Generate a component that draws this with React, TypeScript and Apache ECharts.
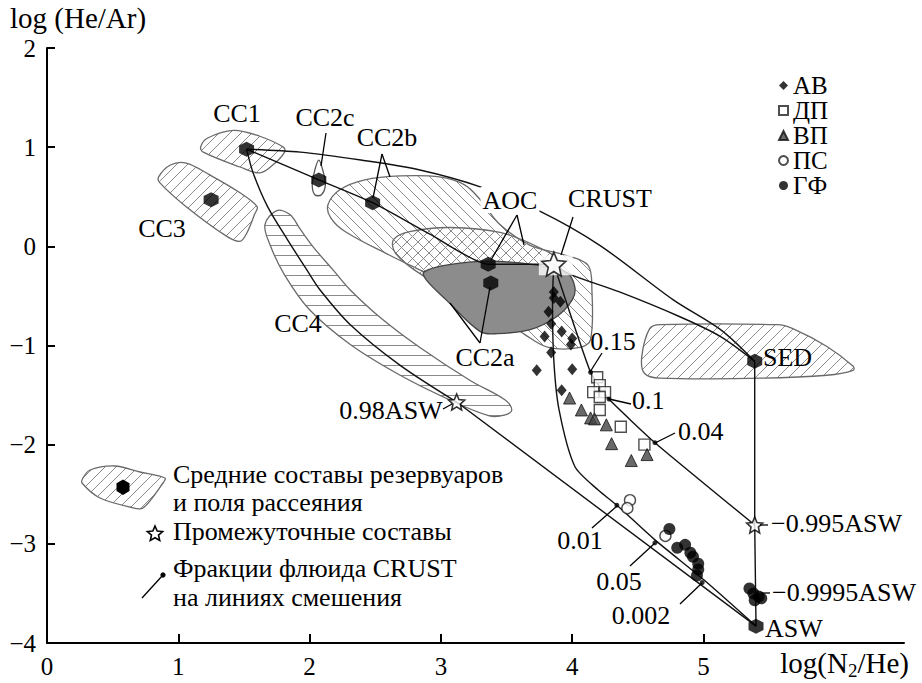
import React, { useEffect, useRef } from 'react';
import * as echarts from 'echarts';

const FONT = 'Liberation Serif, Times New Roman, serif';

// ---- axes ----
const X_TICKS = [0, 1, 2, 3, 4, 5];
const Y_TICKS = [-4, -3, -2, -1, 0, 1, 2];

// ---- samples ----
const AB_X = [3.86, 3.86, 3.91, 3.82, 3.84, 3.92, 3.79, 4.0, 3.99, 3.84, 3.73, 4.0, 3.92];
const AB_Y = [-0.46, -0.52, -0.56, -0.66, -0.78, -0.86, -0.91, -0.93, -0.99, -1.07, -1.25, -1.24, -1.45];
const DP_X = [4.19, 4.21, 4.16, 4.25, 4.21, 4.21, 4.37, 4.55];
const DP_Y = [-1.32, -1.4, -1.47, -1.47, -1.52, -1.65, -1.82, -2.0];
const VP_X = [3.98, 4.07, 4.14, 4.17, 4.26, 4.3, 4.45, 4.57];
const VP_Y = [-1.53, -1.65, -1.73, -1.74, -1.8, -1.99, -2.16, -2.1];
const PS_X = [4.44, 4.42, 4.71];
const PS_Y = [-2.56, -2.64, -2.92];
const GF_X = [4.74, 4.8, 4.86, 4.9, 4.92, 4.96, 4.96, 4.95, 5.35, 5.38, 5.39, 5.44, 5.42];
const GF_Y = [-2.85, -3.04, -3.01, -3.09, -3.13, -3.2, -3.26, -3.32, -3.45, -3.5, -3.57, -3.55, -3.53];

// ---- reservoir means ----
const MEAN_NAMES = ['CC1', 'CC2c', 'CC2b', 'CC3', 'AOC', 'CC2a', 'SED', 'ASW'];
const MEAN_X = [1.52, 2.07, 2.48, 1.25, 3.36, 3.38, 5.39, 5.4];
const MEAN_Y = [0.98, 0.67, 0.44, 0.47, -0.18, -0.37, -1.16, -3.83];

// ---- intermediate compositions ----
const STAR_NAMES = ['CRUST', '0.98ASW', '−0.995ASW'];
const STAR_X = [3.86, 3.12, 5.39];
const STAR_Y = [-0.18, -1.57, -2.81];

// ---- CRUST fluid fractions on mixing lines ----
const FRAC_NAMES = ['0.15', '0.1', '0.04', '0.01', '0.05', '0.002'];
const FRAC_X = [4.14, 4.28, 4.63, 4.34, 4.63, 4.99];
const FRAC_Y = [-1.27, -1.54, -1.98, -2.61, -2.99, -3.39];

// ---- mixing lines ----
const L_CC1_SED_X = [1.52, 1.93, 2.39, 2.84, 3.3, 3.76, 4.21, 4.77, 5.13, 5.39];
const L_CC1_SED_Y = [0.98, 0.95, 0.87, 0.77, 0.6, 0.35, 0.01, -0.54, -0.84, -1.16];
const L_CRUST_SED_X = [3.86, 3.98, 4.36, 4.82, 5.13, 5.39];
const L_CRUST_SED_Y = [-0.18, -0.28, -0.46, -0.71, -0.91, -1.16];
const L_CC1_CRUST_X = [1.52, 2.07, 2.48, 2.92, 3.36, 3.86];
const L_CC1_CRUST_Y = [0.98, 0.67, 0.44, 0.12, -0.18, -0.18];
const L_CC1_ASW98_X = [1.52, 1.57, 1.68, 1.83, 1.98, 2.08, 2.31, 2.69, 3.12];
const L_CC1_ASW98_Y = [0.98, 0.74, 0.4, 0.07, -0.24, -0.44, -0.79, -1.2, -1.57];
const L_ASW98_ASW_X = [3.12, 5.4];
const L_ASW98_ASW_Y = [-1.57, -3.83];
const L_CRUST_995_X = [3.86, 4.14, 4.28, 4.63, 5.39];
const L_CRUST_995_Y = [-0.18, -1.27, -1.54, -1.98, -2.81];
const L_SED_ASW_X = [5.39, 5.39, 5.4];
const L_SED_ASW_Y = [-1.16, -2.81, -3.83];
const L_CRUST_ASW_X = [3.86, 3.85, 3.86, 3.9, 4.02, 4.2, 4.34, 4.63, 5.0, 5.4];
const L_CRUST_ASW_Y = [-0.18, -0.54, -1.15, -1.65, -2.22, -2.46, -2.61, -2.96, -3.36, -3.83];

// ---- reservoir fields (outlines) ----
const F_CC1 = [[1.17, 1.0], [1.22, 1.09], [1.42, 1.17], [1.62, 1.11], [1.8, 1.0], [1.81, 0.95], [1.72, 0.82], [1.62, 0.74], [1.47, 0.8], [1.19, 0.95]];
const F_CC3 = [[0.85, 0.7], [0.94, 0.82], [1.06, 0.84], [1.24, 0.72], [1.47, 0.54], [1.6, 0.4], [1.58, 0.32], [1.52, 0.13], [1.47, 0.05], [1.37, 0.1], [1.06, 0.4], [0.86, 0.64]];
const F_CC2C = [[2.07, 0.87], [2.1, 0.77], [2.12, 0.62], [2.09, 0.52], [2.04, 0.52], [2.02, 0.62], [2.04, 0.77]];
const F_CC2B = [[2.14, 0.42], [2.23, 0.57], [2.42, 0.67], [2.69, 0.71], [2.99, 0.7], [3.18, 0.62], [3.3, 0.47], [3.45, 0.22], [3.68, 0.01], [3.95, -0.09], [4.12, -0.19], [4.15, -0.44], [4.14, -0.94], [4.06, -1.02], [3.82, -1.02], [3.64, -0.89], [3.37, -0.64], [2.99, -0.34], [2.61, -0.09], [2.27, 0.15], [2.16, 0.29]];
const F_AOC = [[2.64, 0.07], [2.77, 0.15], [3.07, 0.19], [3.45, 0.14], [3.76, -0.02], [3.91, -0.16], [3.87, -0.34], [3.68, -0.47], [3.37, -0.51], [3.07, -0.44], [2.8, -0.24], [2.65, -0.06]];
const F_CC2A = [[2.87, -0.26], [3.04, -0.19], [3.37, -0.15], [3.73, -0.19], [3.96, -0.27], [4.02, -0.41], [4.0, -0.54], [3.88, -0.71], [3.68, -0.84], [3.43, -0.88], [3.3, -0.86], [3.04, -0.54], [2.89, -0.34]];
const F_CC4 = [[1.75, 0.36], [1.85, 0.32], [1.93, 0.17], [2.03, -0.01], [2.18, -0.24], [2.31, -0.44], [2.54, -0.72], [2.84, -1.02], [3.22, -1.35], [3.49, -1.55], [3.54, -1.65], [3.49, -1.7], [3.37, -1.71], [3.07, -1.55], [2.69, -1.3], [2.31, -0.99], [2.0, -0.64], [1.81, -0.29], [1.7, 0.01], [1.66, 0.22]];
const F_SED = [[4.53, -1.11], [4.59, -0.83], [4.67, -0.79], [5.56, -0.79], [5.68, -0.83], [5.94, -1.01], [6.14, -1.21], [6.14, -1.25], [5.94, -1.3], [5.43, -1.33], [4.67, -1.33], [4.55, -1.28]];

const zip = (xs: number[], ys: number[]) => xs.map((x, i) => [x, ys[i]]);

function hatch(kind: string, step: number) {
  const c = document.createElement('canvas');
  c.width = step;
  c.height = step;
  const g = c.getContext('2d') as CanvasRenderingContext2D;
  g.strokeStyle = '#8a8a8a';
  g.lineWidth = 1;
  g.beginPath();
  if (kind === '/') {
    for (let o = -step; o <= step; o += step) { g.moveTo(o, step); g.lineTo(o + step, 0); }
  } else if (kind === '\\') {
    for (let o = -step; o <= step; o += step) { g.moveTo(o, 0); g.lineTo(o + step, step); }
  } else {
    g.moveTo(0, step / 2 + 0.5); g.lineTo(step, step / 2 + 0.5);
  }
  g.stroke();
  return { image: c, repeat: 'repeat' };
}

function starPts(cx: number, cy: number, R: number, r: number) {
  const pts: number[][] = [];
  for (let i = 0; i < 10; i++) {
    const a = -Math.PI / 2 + (i * Math.PI) / 5;
    const rr = i % 2 === 0 ? R : r;
    pts.push([cx + rr * Math.cos(a), cy + rr * Math.sin(a)]);
  }
  return pts;
}
const STAR_PATH = 'path://' + starPts(0, 0, 10, 4.6).map((p, i) => (i ? 'L' : 'M') + p[0].toFixed(2) + ',' + p[1].toFixed(2)).join('') + 'Z';
const HEX_PATH = 'path://M0,-10L8.66,-5L8.66,5L0,10L-8.66,5L-8.66,-5Z';

export default function App() {
  const ref = useRef<HTMLDivElement>(null);
  useEffect(() => {
    if (!ref.current) return;
    const chart = echarts.init(ref.current, undefined, { renderer: 'svg' });

    const hSlash = hatch('/', 11);
    const hBack = hatch('\\', 11);
    const hHor = hatch('-', 10);

    const regions = [
      { name: 'fCC4', pts: F_CC4, fill: hHor, stroke: '#6a6a6a' },
      { name: 'fCC3', pts: F_CC3, fill: hSlash, stroke: '#6a6a6a' },
      { name: 'fCC1', pts: F_CC1, fill: hSlash, stroke: '#6a6a6a' },
      { name: 'fCC2b', pts: F_CC2B, fill: hBack, stroke: '#6a6a6a' },
      { name: 'fAOC', pts: F_AOC, fill: hSlash, stroke: '#6a6a6a' },
      { name: 'fSED', pts: F_SED, fill: hSlash, stroke: '#6a6a6a' },
      { name: 'fCC2c', pts: F_CC2C, fill: '#fff', stroke: '#555' },
      { name: 'fCC2a', pts: F_CC2A, fill: '#8c8c8c', stroke: '#444' },
    ];

    const regionSeries = regions.map((r) => ({
      type: 'custom',
      name: r.name,
      silent: true,
      z: 1,
      clip: false,
      data: [r.pts[0]],
      renderItem: (_p: any, api: any) => ({
        type: 'polygon',
        shape: { points: r.pts.map((p) => api.coord(p)), smooth: 0.35 },
        style: { fill: r.fill, stroke: r.stroke, lineWidth: 1.3 },
      }),
    }));

    const line = (name: string, xs: number[], ys: number[], smooth: number) => ({
      type: 'line',
      name,
      data: zip(xs, ys),
      symbol: 'none',
      smooth,
      silent: true,
      clip: false,
      z: 2,
      lineStyle: { color: '#111', width: 1.4 },
    });

    const lineSeries = [
      line('mCC1SED', L_CC1_SED_X, L_CC1_SED_Y, 0.3),
      line('mCRUSTSED', L_CRUST_SED_X, L_CRUST_SED_Y, 0.3),
      line('mCC1CRUST', L_CC1_CRUST_X, L_CC1_CRUST_Y, 0.2),
      line('mCC1ASW98', L_CC1_ASW98_X, L_CC1_ASW98_Y, 0.3),
      line('mASW98ASW', L_ASW98_ASW_X, L_ASW98_ASW_Y, 0),
      line('mCRUST995', L_CRUST_995_X, L_CRUST_995_Y, 0.15),
      line('mSEDASW', L_SED_ASW_X, L_SED_ASW_Y, 0),
      line('mCRUSTASW', L_CRUST_ASW_X, L_CRUST_ASW_Y, 0.25),
    ];

    const pointSeries = [
      {
        type: 'scatter', name: 'crustBg', silent: true, z: 3,
        data: [[STAR_X[0], STAR_Y[0]]], symbol: 'rect', symbolSize: [34, 20],
        symbolOffset: [2, 1], itemStyle: { color: '#fff' },
      },
      {
        type: 'scatter', name: 'АВ', z: 4, data: zip(AB_X, AB_Y), symbol: 'diamond',
        symbolSize: [10, 12], itemStyle: { color: '#000' },
      },
      {
        type: 'scatter', name: 'ДП', z: 4, data: zip(DP_X, DP_Y), symbol: 'rect', symbolSize: 11,
        itemStyle: { color: '#fff', borderColor: '#222', borderWidth: 1.4 },
      },
      {
        type: 'scatter', name: 'ВП', z: 4, data: zip(VP_X, VP_Y), symbol: 'triangle', symbolSize: 12,
        itemStyle: { color: '#444', borderColor: '#111', borderWidth: 1 },
      },
      {
        type: 'scatter', name: 'ПС', z: 4, data: zip(PS_X, PS_Y), symbol: 'circle', symbolSize: 11,
        itemStyle: { color: '#fff', borderColor: '#222', borderWidth: 1.4 },
      },
      {
        type: 'scatter', name: 'ГФ', z: 4, data: zip(GF_X, GF_Y), symbol: 'circle', symbolSize: 12,
        itemStyle: { color: '#000' },
      },
      {
        type: 'scatter', name: 'means', z: 5, silent: true,
        data: MEAN_NAMES.map((n, i) => ({ name: n, value: [MEAN_X[i], MEAN_Y[i]] })),
        symbol: HEX_PATH, symbolSize: 15, itemStyle: { color: '#000' },
      },
      {
        type: 'scatter', name: 'stars', z: 5, silent: true,
        data: STAR_NAMES.map((n, i) => ({ name: n, value: [STAR_X[i], STAR_Y[i]], symbolSize: i === 0 ? 24 : 16 })),
        symbol: STAR_PATH, itemStyle: { color: '#fff', borderColor: '#000', borderWidth: 1.6 },
      },
      {
        type: 'scatter', name: 'fractions', z: 5, silent: true,
        data: FRAC_NAMES.map((n, i) => ({ name: n, value: [FRAC_X[i], FRAC_Y[i]] })),
        symbol: 'circle', symbolSize: 5, itemStyle: { color: '#000' },
      },
    ];

    const T = (text: string, x: number, y: number, align = 'center', extra: any = {}) => ({
      type: 'text', x, y, z: 50,
      style: {
        text, fontSize: 26, fontFamily: FONT, fill: '#000',
        align, verticalAlign: 'middle', textAlign: align, textVerticalAlign: 'middle', ...extra,
      },
    });
    const Ln = (x1: number, y1: number, x2: number, y2: number) => ({
      type: 'line', z: 49, shape: { x1, y1, x2, y2 }, style: { stroke: '#000', lineWidth: 1.3 },
    });

    const graphics: any[] = [
      T('log (He/Ar)', 10, 18, 'left', { fontSize: 29 }),
      T('log(N{s|2}/He)', 909, 663, 'right', { fontSize: 29, rich: { s: { fontSize: 19, fontFamily: FONT, padding: [14, 0, 0, 0] } } }),
      // reservoir labels
      T('CC1', 237, 113),
      T('CC2c', 325, 117),
      T('CC2b', 387, 137),
      T('CC3', 162, 228),
      T('CC4', 298, 323),
      T('AOC', 510, 200, 'center', { backgroundColor: '#fff', padding: [0, 2] }),
      T('CRUST', 610, 198),
      T('CC2a', 485, 357),
      T('SED', 763, 357, 'left'),
      T('0.98ASW', 391, 410),
      T('−0.995ASW', 771, 523, 'left'),
      T('−0.9995ASW', 772, 592, 'left'),
      T('ASW', 765, 628, 'left'),
      T('0.15', 613, 341),
      T('0.1', 632, 400, 'left'),
      T('0.04', 678, 431, 'left'),
      T('0.01', 580, 540),
      T('0.05', 619, 581),
      T('0.002', 641, 615),
      // leaders
      Ln(326, 133, 321, 166),
      Ln(382, 154, 373, 198),
      Ln(382, 154, 390, 177),
      Ln(517, 215, 491, 260),
      Ln(517, 215, 524, 245),
      Ln(573, 217, 561, 255),
      Ln(480, 343, 490, 287),
      Ln(480, 343, 450, 303),
      Ln(443, 409, 452, 404),
      Ln(602, 353, 590, 372),
      Ln(631, 404, 609, 399),
      Ln(675, 433, 655, 443),
      Ln(592, 528, 617, 506),
      Ln(630, 566, 655, 543),
      Ln(680, 604, 702, 583),
      Ln(760, 525, 768, 525),
      Ln(762, 593, 770, 593),
      // bottom-left legend
      {
        type: 'polygon', z: 40,
        shape: { points: [[83, 478], [90, 470], [115, 466], [140, 472], [165, 478], [163, 483], [143, 508], [130, 507], [100, 498], [82, 483]], smooth: 0.3 },
        style: { fill: hSlash, stroke: '#6a6a6a', lineWidth: 1.3 },
      },
      { type: 'polygon', z: 41, shape: { points: [[123, 479.5], [129.5, 483.3], [129.5, 491], [123, 495], [116.5, 491], [116.5, 483.3]] }, style: { fill: '#000' } },
      { type: 'polygon', z: 41, shape: { points: starPts(155, 534, 8, 3.7) }, style: { fill: '#fff', stroke: '#000', lineWidth: 1.6 } },
      Ln(142, 598, 163, 575),
      { type: 'circle', z: 50, shape: { cx: 163, cy: 575, r: 2.6 }, style: { fill: '#000' } },
      T('Средние составы резервуаров', 173, 474, 'left'),
      T('и поля рассеяния', 173, 502, 'left'),
      T('Промежуточные составы', 173, 531, 'left'),
      T('Фракции флюида CRUST', 173, 568, 'left'),
      T('на линиях смешения', 173, 597, 'left'),
    ];

    chart.setOption({
      animation: false,
      backgroundColor: '#fff',
      grid: { left: 47, top: 48, width: 857, height: 595, containLabel: false },
      legend: {
        data: ['АВ', 'ДП', 'ВП', 'ПС', 'ГФ'],
        orient: 'vertical', left: 773, top: 68, itemWidth: 9, itemHeight: 9, itemGap: 0,
        selectedMode: false,
        textStyle: { fontFamily: FONT, fontSize: 25, color: '#000', lineHeight: 24.5 },
      },
      xAxis: {
        type: 'value', min: 0, max: 6.527,
        axisLine: { onZero: false, lineStyle: { color: '#000', width: 2 } },
        axisTick: { inside: true, length: 9, lineStyle: { color: '#000', width: 2 }, customValues: X_TICKS },
        axisLabel: { customValues: X_TICKS, fontFamily: FONT, fontSize: 25, color: '#000', margin: 11 },
        splitLine: { show: false },
      },
      yAxis: {
        type: 'value', min: -4, max: 2, interval: 1,
        axisLine: { onZero: false, lineStyle: { color: '#000', width: 2 } },
        axisTick: { inside: true, length: 8, lineStyle: { color: '#000', width: 2 }, customValues: Y_TICKS },
        axisLabel: {
          customValues: Y_TICKS, fontFamily: FONT, fontSize: 25, color: '#000', margin: 11,
          formatter: (v: number) => (v < 0 ? '−' + Math.abs(v) : String(v)),
        },
        splitLine: { show: false },
      },
      series: [...regionSeries, ...lineSeries, ...pointSeries],
      graphic: graphics,
    });
    return () => chart.dispose();
  }, []);
  return (
    <div style={{ position: 'fixed', left: 0, top: 0, width: 922, height: 683, background: '#fff' }}>
      <div ref={ref} style={{ width: 922, height: 683 }} />
    </div>
  );
}
